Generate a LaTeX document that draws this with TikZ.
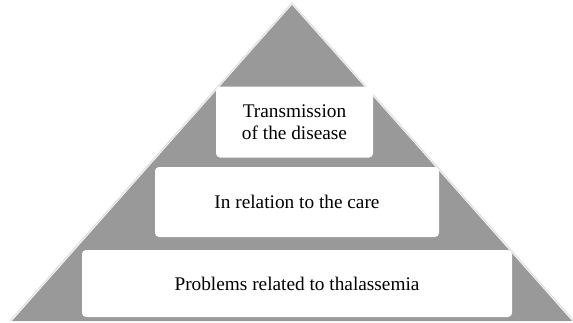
\documentclass[tikz,border=0pt]{standalone}
\usepackage{fontspec}
\setmainfont{Liberation Serif}
\usepackage{tikz}
\usetikzlibrary{positioning,calc}

\begin{document}
\begin{tikzpicture}[x=1pt,y=-1pt,
  level/.style={fill=white,rounded corners=4pt,align=center,
    font=\fontsize{19.3}{22}\selectfont,inner sep=0pt}]
  \useasboundingbox (0,0) rectangle (573,322);
  % pyramid
  \coordinate (apex) at (292,5);
  \coordinate (bl) at (12,321);
  \coordinate (br) at (572,321);
  \fill[black!40] (apex)--(br)--(bl)--cycle;
  \draw[black!12,line width=1.2pt] ($(bl)+(-2,0)$)--($(apex)+(0,-2)$)--($(br)+(2,0)$);
  % levels
  \node[level,minimum width=157,minimum height=71] (top) at (294.5,122)
    {Transmission\\of the disease};
  \node[level,minimum width=284,minimum height=70] (mid) at (297,202)
    {In relation to the care};
  \node[level,minimum width=430,minimum height=67] (base) at (297,283.5)
    {Problems related to thalassemia};
\end{tikzpicture}
\end{document}
